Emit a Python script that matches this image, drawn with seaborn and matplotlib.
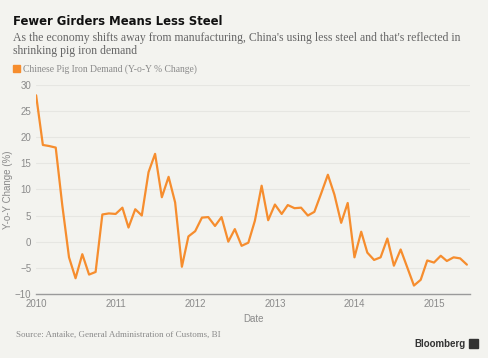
import matplotlib
matplotlib.use("Agg")
import matplotlib.pyplot as plt
import matplotlib.patches as mpatches
import seaborn as sns
import pandas as pd

# monthly pig iron demand, Y-o-Y % change
months = pd.date_range("2010-01-01", "2015-06-01", freq="MS")
values = [
    28.0, 18.5, 18.3, 18.0, 7.0, -3.0, -7.0, -2.4, -6.3, -5.8, 5.2, 5.4,    # 2010
    5.3, 6.5, 2.7, 6.2, 5.0, 13.3, 16.8, 8.5, 12.4, 7.5, -4.8, 1.0,         # 2011
    2.0, 4.6, 4.7, 3.0, 4.7, 0.0, 2.4, -0.8, -0.2, 4.0, 10.7, 4.1,          # 2012
    7.1, 5.3, 7.0, 6.4, 6.5, 5.0, 5.7, 9.2, 12.8, 9.0, 3.6, 7.4,            # 2013
    -3.0, 1.9, -2.1, -3.5, -3.0, 0.6, -4.6, -1.5, -5.0, -8.4, -7.3, -3.6,   # 2014
    -4.0, -2.7, -3.7, -3.0, -3.2, -4.4,                                     # 2015
]
year_ticks = ["2010", "2011", "2012", "2013", "2014", "2015"]
y_ticks = [-10, -5, 0, 5, 10, 15, 20, 25, 30]

title = "Fewer Girders Means Less Steel"
subtitle = ("As the economy shifts away from manufacturing, China's using less steel and that's reflected in\n"
            "shrinking pig iron demand")
series_name = "Chinese Pig Iron Demand (Y-o-Y % Change)"
source = "Source: Antaike, General Administration of Customs, BI"

df = pd.DataFrame({"date": months, "value": values})

bg = "#f3f3ef"
orange = "#f68d2e"
grey = "#8a8a8a"

sns.set_theme(style="white")
plt.rcParams["font.family"] = ["Liberation Sans", "DejaVu Sans"]

fig = plt.figure(figsize=(4.88, 3.58), dpi=100, facecolor=bg)
ax = fig.add_axes([0.074, 0.179, 0.889, 0.584], facecolor=bg)

sns.lineplot(data=df, x="date", y="value", ax=ax, color=orange, linewidth=1.6)

ax.set_ylim(-10, 30)
ax.set_yticks(y_ticks)
ax.set_xlim(pd.Timestamp("2010-01-01"), pd.Timestamp("2015-06-15"))
ax.set_xticks([pd.Timestamp(f"{y}-01-01") for y in year_ticks])
ax.set_xticklabels(year_ticks)

for yv in y_ticks[1:]:
    ax.axhline(yv, color="#e6e6e2", linewidth=0.8, zorder=0)

for s in ["top", "right", "left"]:
    ax.spines[s].set_visible(False)
ax.spines["bottom"].set_color("#9a9a9a")
ax.spines["bottom"].set_linewidth(1.0)

ax.tick_params(axis="x", colors="#9a9a9a", length=3, width=0.8, direction="inout",
               labelsize=7, labelcolor=grey, pad=2.5)
ax.tick_params(axis="y", length=0, labelsize=7, labelcolor=grey, pad=3.5)

ax.set_xlabel("Date", fontsize=7, color=grey, labelpad=3)
ax.set_ylabel("Y-o-Y Change (%)", fontsize=7, color=grey, labelpad=1.5)

fig.text(0.027, 0.941, title, fontsize=8.4, fontweight="bold", color="#111111",
         family=["DejaVu Sans"], va="center")
fig.text(0.027, 0.876, subtitle, fontsize=8.5, color="#666666",
         family=["Liberation Serif"], va="center", linespacing=1.15)

fig.patches.append(mpatches.Rectangle((0.027, 0.798), 0.015, 0.021, transform=fig.transFigure,
                                      color=orange, figure=fig))
fig.text(0.047, 0.807, series_name, fontsize=6.9, color=grey,
         family=["Liberation Serif"], va="center")

fig.text(0.032, 0.064, source, fontsize=6.5, color=grey,
         family=["Liberation Serif"], va="center")
fig.text(0.955, 0.04, "Bloomberg", fontsize=7, fontweight="bold", color="#333333",
         ha="right", va="center")
fig.patches.append(mpatches.Rectangle((0.962, 0.027), 0.017, 0.027, transform=fig.transFigure,
                                      color="#333333", figure=fig))

fig.savefig("out.png", dpi=100, facecolor=bg)
